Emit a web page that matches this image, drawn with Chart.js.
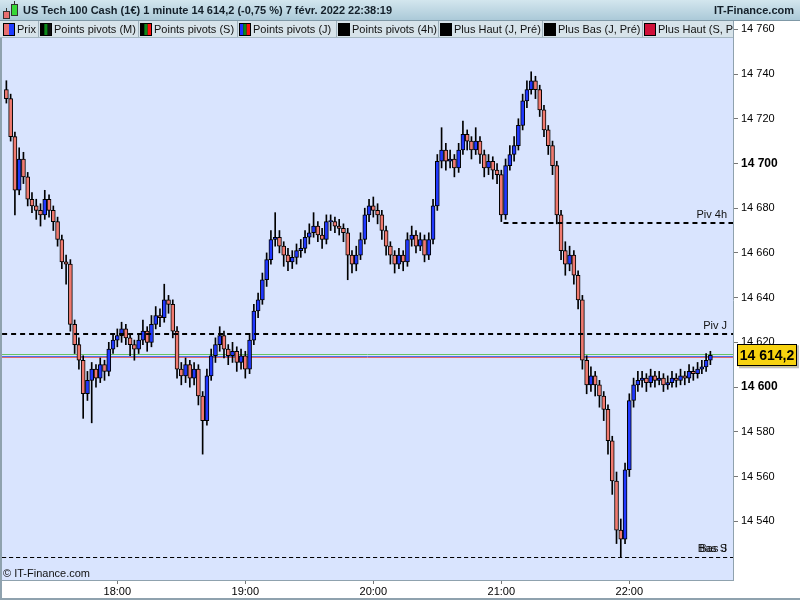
<!DOCTYPE html>
<html>
<head>
<meta charset="utf-8">
<script src="https://cdn.jsdelivr.net/npm/chart.js@4.4.0/dist/chart.umd.min.js"></script>
<style>
html, body { margin: 0; padding: 0; background: #fff; }
#wrap { width: 800px; height: 600px; }
</style>
</head>
<body>
<div id="wrap"><canvas id="chart" width="800" height="600"></canvas></div>
<script>
// Candles, one every 2 minutes from 17:08
const startMinute = 17 * 60 + 8;
const stepMinutes = 2;

const opens = [14733,14729,14712,14688,14702,14694,14684,14681,14679,14677,
14684,14679,14674,14666,14656,14655,14628,14619,14612,14597,
14603,14608,14604,14610,14607,14617,14621,14623,14626,14622,
14619,14617,14621,14625,14620,14628,14632,14631,14639,14637,
14625,14608,14605,14610,14604,14608,14596,14585,14605,14614,
14619,14623,14617,14614,14616,14611,14614,14608,14621,14634,
14639,14648,14657,14666,14667,14663,14659,14656,14658,14661,
14662,14667,14669,14672,14668,14666,14674,14674,14672,14671,
14669,14659,14655,14659,14666,14677,14681,14679,14677,14670,
14663,14659,14655,14659,14656,14666,14668,14663,14666,14659,
14666,14681,14701,14706,14701,14702,14698,14706,14713,14710,
14706,14710,14704,14698,14701,14697,14695,14677,14699,14704,
14708,14717,14728,14733,14737,14733,14724,14715,14708,14699,
14677,14661,14655,14659,14650,14639,14612,14601,14605,14601,
14596,14590,14576,14558,14536,14532,14563,14594,14601,14603,
14604,14602,14605,14603,14604,14601,14602,14604,14603,14605,
14604,14607,14606,14608,14609,14612];

const highs = [14737,14731,14714,14707,14705,14696,14687,14684,14682,14688,
14686,14681,14676,14668,14659,14657,14630,14622,14614,14607,
14611,14610,14613,14612,14620,14624,14626,14629,14628,14624,
14621,14624,14630,14627,14632,14636,14635,14646,14641,14639,
14627,14611,14613,14612,14611,14610,14598,14608,14617,14622,
14627,14625,14619,14620,14618,14617,14616,14624,14637,14642,
14651,14660,14670,14678,14670,14665,14662,14661,14664,14666,
14670,14673,14678,14674,14671,14677,14677,14676,14675,14673,
14671,14661,14663,14669,14680,14684,14685,14682,14679,14672,
14665,14661,14662,14661,14669,14672,14670,14669,14668,14669,
14684,14704,14716,14709,14706,14704,14709,14719,14715,14712,
14716,14712,14706,14704,14703,14700,14697,14702,14708,14712,
14720,14731,14737,14741,14739,14735,14726,14717,14710,14701,
14679,14665,14663,14661,14652,14641,14614,14609,14607,14603,
14598,14592,14578,14562,14541,14566,14597,14604,14607,14607,
14606,14608,14607,14607,14606,14605,14607,14606,14608,14607,
14610,14609,14611,14612,14615,14616];

const lows = [14727,14710,14677,14686,14691,14681,14678,14675,14672,14675,
14676,14670,14663,14653,14646,14625,14615,14608,14586,14594,
14584,14600,14602,14603,14605,14615,14618,14620,14619,14614,
14612,14615,14619,14616,14618,14626,14627,14629,14633,14622,
14604,14601,14602,14600,14601,14592,14570,14583,14603,14611,
14616,14613,14610,14611,14607,14608,14604,14606,14619,14631,
14637,14645,14655,14663,14660,14654,14652,14653,14655,14658,
14660,14664,14667,14665,14662,14664,14670,14669,14668,14665,
14648,14651,14652,14657,14664,14674,14676,14673,14666,14659,
14655,14651,14653,14652,14654,14663,14660,14661,14656,14657,
14664,14679,14698,14697,14698,14694,14696,14704,14706,14702,
14704,14700,14694,14695,14693,14691,14674,14675,14697,14701,
14706,14715,14725,14731,14729,14721,14712,14704,14695,14673,
14657,14650,14652,14646,14635,14608,14597,14598,14596,14591,
14585,14570,14552,14530,14524,14530,14560,14591,14598,14600,
14598,14600,14600,14601,14598,14599,14600,14600,14601,14601,
14602,14603,14604,14606,14607,14610];

const closes = [14729,14712,14688,14702,14694,14684,14681,14679,14677,14684,
14679,14674,14666,14656,14655,14628,14619,14612,14597,14603,
14608,14604,14610,14607,14617,14621,14623,14626,14622,14619,
14617,14621,14625,14620,14628,14632,14631,14639,14637,14625,
14608,14605,14610,14604,14608,14596,14585,14605,14614,14619,
14623,14617,14614,14616,14611,14614,14608,14621,14634,14639,
14648,14657,14666,14667,14663,14659,14656,14658,14661,14662,
14667,14669,14672,14668,14666,14674,14674,14672,14671,14669,
14659,14655,14659,14666,14677,14681,14679,14677,14670,14663,
14659,14655,14659,14656,14666,14668,14663,14666,14659,14666,
14681,14701,14706,14701,14702,14698,14706,14713,14710,14706,
14710,14704,14698,14701,14697,14695,14677,14699,14704,14708,
14717,14728,14733,14737,14733,14724,14715,14708,14699,14677,
14661,14655,14659,14650,14639,14612,14601,14605,14601,14596,
14590,14576,14558,14536,14532,14563,14594,14601,14603,14604,
14602,14605,14603,14604,14601,14602,14604,14603,14605,14604,
14607,14606,14608,14609,14612,14614.2];

// Axes
const priceTicks = [14540,14560,14580,14600,14620,14640,14660,14680,14700,14720,14740,14760];
const hourTicks = [1080,1140,1200,1260,1320];
const hourLabels = ['18:00','19:00','20:00','21:00','22:00'];

// Horizontal levels
const levelNames = ['Piv 4h', 'Piv J', 'Bas S', 'Bas J'];
const levelValues = [14673.2, 14623.7, 14523.8, 14523.8];
const levelStart = [1261, 1026, 1026, 1026];
const levelWidth = [2, 2, 1, 1];

// Thin lines near the last price
const refValues = [14615.0, 14614.1, 14613.3];
const refColors = ['#66c266', '#4b6fe8', '#e46a6a'];

const lastPrice = '14 614,2';
const titleText = 'US Tech 100 Cash (1€) 1 minute 14 614,2 (-0,75 %) 7 févr. 2022 22:38:19';

const legendItems = [
    { text: 'Prix', x: 38, colors: ['#e86f6f', '#1e3cff'] },
    { text: 'Points pivots (M)', x: 138, colors: ['#000', '#0b8a1a', '#111'] },
    { text: 'Points pivots (S)', x: 237, colors: ['#000', '#0b8a1a', '#ff1010'] },
    { text: 'Points pivots (J)', x: 336, colors: ['#2030ff', '#0b8a1a', '#ff1010'] },
    { text: 'Points pivots (4h)', x: 438, colors: ['#000'] },
    { text: 'Plus Haut (J, Pré)', x: 542, colors: ['#000'] },
    { text: 'Plus Bas (J, Pré)', x: 642, colors: ['#000'] },
    { text: 'Plus Haut (S, Pré)', x: 733, colors: ['#d0103a'] }
];

const UP = '#2038ff';
const DOWN = '#f07a70';
const FONT = "'Liberation Sans', Arial, sans-serif";

const times = closes.map((c, i) => startMinute + i * stepMinutes);
const bodies = times.map((t, i) => ({ x: t, y: [opens[i], closes[i]] }));
const wicks = times.map((t, i) => ({ x: t, y: [lows[i], highs[i]] }));

function fmt(v) {
    return String(v).replace(/\B(?=(\d{3})+(?!\d))/g, ' ');
}

const decor = {
    id: 'decor',
    beforeDraw(chart) {
        const { ctx, chartArea: a } = chart;
        ctx.save();
        ctx.fillStyle = '#fff';
        ctx.fillRect(0, 0, chart.width, chart.height);
        ctx.fillStyle = '#d9e4fe';
        ctx.fillRect(a.left, a.top, a.right - a.left, a.bottom - a.top);
        ctx.restore();
    },
    beforeDatasetsDraw(chart) {
        const { ctx, chartArea: a, scales } = chart;
        ctx.save();
        ctx.lineWidth = 1;
        refValues.forEach((v, i) => {
            const y = Math.round(scales.y.getPixelForValue(v)) + 0.5;
            ctx.strokeStyle = refColors[i];
            ctx.beginPath();
            ctx.moveTo(a.left, y);
            ctx.lineTo(a.right, y);
            ctx.stroke();
        });
        ctx.restore();
    },
    afterDatasetsDraw(chart) {
        const { ctx, chartArea: a, scales } = chart;
        ctx.save();
        ctx.strokeStyle = '#000';
        ctx.fillStyle = '#111';
        ctx.font = '11px ' + FONT;
        ctx.textAlign = 'right';
        ctx.textBaseline = 'bottom';
        levelValues.forEach((v, i) => {
            const y = Math.round(scales.y.getPixelForValue(v)) + (levelWidth[i] === 1 ? 0.5 : 0);
            const x0 = scales.x.getPixelForValue(levelStart[i]);
            ctx.lineWidth = levelWidth[i];
            ctx.setLineDash(levelWidth[i] === 2 ? [5, 4] : [4, 3]);
            ctx.beginPath();
            ctx.moveTo(Math.max(a.left, x0), y);
            ctx.lineTo(a.right, y);
            ctx.stroke();
            ctx.fillText(levelNames[i], a.right - 6, y - 3);
        });
        ctx.restore();
    },
    afterDraw(chart) {
        const { ctx, chartArea: a, scales } = chart;
        ctx.save();

        // frame lines
        ctx.fillStyle = '#8fa2ae';
        ctx.fillRect(0, 20, 2, 580);
        ctx.fillRect(0, 598, 800, 2);

        // title bar
        const g = ctx.createLinearGradient(0, 0, 0, 21);
        g.addColorStop(0, '#d3e6ee');
        g.addColorStop(1, '#a9c8d7');
        ctx.fillStyle = g;
        ctx.fillRect(0, 0, 800, 21);
        ctx.fillStyle = '#7f98a6';
        ctx.fillRect(0, 20, 800, 1);

        // little candle icon
        ctx.fillStyle = '#e86f6f';
        ctx.fillRect(4, 12, 5, 6);
        ctx.strokeStyle = '#333';
        ctx.lineWidth = 1;
        ctx.strokeRect(3.5, 11.5, 6, 7);
        ctx.beginPath(); ctx.moveTo(6.5, 8); ctx.lineTo(6.5, 11); ctx.stroke();
        ctx.fillStyle = '#38d838';
        ctx.fillRect(12, 5, 5, 10);
        ctx.strokeRect(11.5, 4.5, 6, 11);
        ctx.beginPath(); ctx.moveTo(14.5, 1); ctx.lineTo(14.5, 4); ctx.stroke();

        ctx.fillStyle = '#14202a';
        ctx.font = 'bold 11px ' + FONT;
        ctx.textBaseline = 'middle';
        ctx.textAlign = 'left';
        ctx.fillText(titleText, 23, 11);
        ctx.textAlign = 'right';
        ctx.fillText('IT-Finance.com', 794, 11);

        // legend row
        ctx.fillStyle = '#d7e3ea';
        ctx.fillRect(0, 21, a.right, 17);
        ctx.fillStyle = '#a6b8c3';
        ctx.fillRect(0, 37, a.right, 1);
        ctx.font = '11px ' + FONT;
        ctx.textAlign = 'left';
        let left = 2;
        legendItems.forEach(item => {
            const w = 10 / item.colors.length;
            ctx.fillStyle = '#000';
            ctx.fillRect(left + 1, 23, 12, 13);
            item.colors.forEach((c, k) => {
                ctx.fillStyle = c;
                ctx.fillRect(left + 2 + k * w, 24, w, 11);
            });
            ctx.fillStyle = '#111';
            ctx.fillText(item.text, left + 15, 30);
            ctx.fillStyle = '#9fb1bc';
            ctx.fillRect(item.x, 21, 1, 16);
            left = item.x + 1;
        });
        ctx.fillStyle = '#fff';
        ctx.fillRect(a.right + 1, 21, 800 - a.right - 1, 16);
        // keep the top tick label visible over the legend row
        ctx.fillStyle = '#000';
        ctx.font = '11px ' + FONT;
        const yTop = scales.y.getPixelForValue(14760);
        ctx.fillStyle = '#777';
        ctx.fillRect(a.right, Math.round(yTop), 5, 1);
        ctx.fillStyle = '#000';
        ctx.fillText('14 760', a.right + 8, yTop);
        ctx.fillStyle = '#8fa2ae';
        ctx.fillRect(a.right, 21, 1, 17);

        // last price tag
        const yp = scales.y.getPixelForValue(14614.2);
        ctx.fillStyle = 'rgba(0,0,0,0.25)';
        ctx.fillRect(739, yp - 10, 60, 23);
        ctx.fillStyle = '#f7d20f';
        ctx.fillRect(737, yp - 11, 60, 22);
        ctx.strokeStyle = '#000';
        ctx.lineWidth = 1;
        ctx.strokeRect(737.5, Math.round(yp - 11) + 0.5, 59, 21);
        ctx.fillStyle = '#000';
        ctx.font = 'bold 14px ' + FONT;
        ctx.textAlign = 'center';
        ctx.fillText(lastPrice, 767, yp + 1);

        // watermark
        ctx.font = '11px ' + FONT;
        ctx.textAlign = 'left';
        ctx.fillStyle = '#111';
        ctx.fillText('© IT-Finance.com', 3, 574);

        ctx.restore();
    }
};

new Chart(document.getElementById('chart'), {
    type: 'bar',
    data: {
        datasets: [
            {
                label: 'Corps',
                data: bodies,
                order: 0,
                grouped: false,
                barThickness: 4,
                minBarLength: 1,
                borderWidth: 1,
                borderSkipped: false,
                borderColor: '#000',
                backgroundColor: ctx => closes[ctx.dataIndex] >= opens[ctx.dataIndex] ? UP : DOWN
            },
            {
                label: 'Mèches',
                data: wicks,
                order: 1,
                grouped: false,
                barThickness: 1,
                backgroundColor: '#000',
                borderWidth: 0
            }
        ]
    },
    options: {
        responsive: false,
        animation: false,
        layout: { padding: { top: 20, left: 2, right: 0, bottom: 0 } },
        plugins: { legend: { display: false }, tooltip: { enabled: false } },
        scales: {
            x: {
                type: 'linear',
                min: 1025.95,
                max: 1368.6,
                offset: false,
                afterFit: s => { s.height = 20; },
                afterBuildTicks: s => { s.ticks = hourTicks.map(v => ({ value: v })); },
                grid: { drawOnChartArea: false, offset: false, tickLength: 4, color: '#777' },
                border: { color: '#8fa2ae' },
                ticks: {
                    padding: 1,
                    color: '#000',
                    font: { family: FONT, size: 11 },
                    callback: (v, i) => hourLabels[i]
                }
            },
            y: {
                position: 'right',
                min: 14513.71,
                max: 14764.16,
                afterFit: s => { s.width = 67; },
                afterBuildTicks: s => { s.ticks = priceTicks.map(v => ({ value: v })); },
                grid: { drawOnChartArea: false, tickLength: 5, color: '#777' },
                border: { color: '#8fa2ae' },
                ticks: {
                    padding: 3,
                    color: '#000',
                    font: ctx => (ctx.tick && ctx.tick.value % 100 === 0)
                        ? { family: FONT, size: 12, weight: 'bold' }
                        : { family: FONT, size: 11 },
                    callback: v => fmt(v)
                }
            }
        }
    },
    plugins: [decor]
});
</script>
</body>
</html>
